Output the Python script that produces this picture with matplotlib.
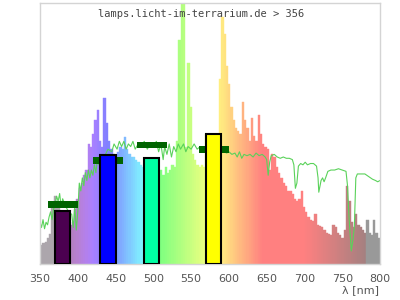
import matplotlib
matplotlib.use('Agg')
import matplotlib.pyplot as plt
import numpy as np

# lamp spectrum, 3 nm bins starting at 350 nm (relative intensity, 100 = top of plot)
bin_width = 3
spec_start = np.arange(350, 800, bin_width)
spec_val = [
    7.3, 8, 8.5, 10, 11.5, 22, 26, 24, 22, 20,          # 350-377
    18, 17, 16, 15, 16, 21, 25, 29, 31, 34,             # 380-407
    36, 46, 45, 50, 55, 59, 47, 45, 63.7, 54,           # 410-437
    47, 44, 42, 39, 43, 45, 44, 48.8, 44, 42,           # 440-467
    41, 41, 40, 39, 38, 37, 37, 38, 36, 37,             # 470-497
    38, 36, 35, 36, 34, 37, 35, 36, 38, 37,             # 500-527
    47, 86, 115, 110, 45, 77, 60, 42, 40, 38,           # 530-557
    37, 38, 37, 50, 45, 45, 46, 47, 48, 71,             # 560-587
    94.6, 88, 76, 69, 60, 55, 52, 51, 50, 62,           # 590-617
    55, 52, 47, 56, 49, 47, 57, 50, 46, 45,             # 620-647
    44, 36, 42, 41, 37, 35, 33, 31, 30, 28,             # 650-677
    28, 27, 25, 24, 25, 28, 22, 20, 18, 17,             # 680-707
    16.5, 19, 15, 14.5, 14, 13, 12, 11.5, 11, 15,       # 710-737
    14, 12, 11, 10, 13, 30, 24, 16, 14, 19,             # 740-767
    15, 14, 13, 12, 17, 12, 11, 17, 12, 10,             # 770-797
]

# reference (daylight) curve
ref_nm = [350, 352, 354, 356, 358, 360, 362, 364, 366, 368, 370, 372, 374, 376, 378,
          380, 384, 388, 392, 394, 396, 398, 400, 402, 404, 406, 408, 410, 412, 414,
          416, 418, 420, 422, 424, 426, 428, 430, 435, 440, 445, 448, 452, 455, 458,
          461, 464, 467, 470, 473, 476, 480, 484, 488, 492, 496, 500, 504, 507, 510,
          513, 515, 518, 521, 524, 527, 530, 533, 536, 540, 543, 546, 550, 554, 558,
          562, 566, 570, 575, 580, 585, 590, 594, 597, 600, 604, 608, 611, 614, 617,
          620, 624, 628, 632, 636, 640, 644, 648, 650, 652, 654, 656, 660, 664, 668,
          672, 676, 680, 684, 686, 688, 690, 692, 695, 698, 701, 704, 708, 712, 716,
          718, 719, 722, 724, 726, 728, 731, 735, 740, 745, 750, 755, 757, 759, 762,
          764, 766, 768, 770, 775, 780, 785, 790, 794, 797, 800]
ref_val = [16, 14, 17, 13.5, 16, 15, 18, 20, 17, 21, 23, 26, 24, 27, 22,
           25, 22, 20, 19, 14, 22, 13, 20, 31, 28, 33, 30, 35, 32, 36,
           33, 36, 34, 38, 35, 40, 38, 42, 41, 44, 43, 46, 44, 47, 45,
           47, 44, 46, 45, 47, 44, 46, 45, 47, 44, 46, 45, 47, 43, 46,
           40, 45, 42, 46, 41, 45, 43, 46, 44, 46, 43, 45, 44, 46, 44,
           45, 44, 45, 44, 43.5, 43, 43.5, 43, 42.5, 43, 42, 42.5, 41, 43, 40.5,
           42, 41.5, 42, 41, 42.5, 41.5, 42, 41, 40, 34, 39, 41.5, 42, 41, 40.5,
           41, 40.5, 40.5, 40, 38, 29, 31, 37.5, 38.5, 38, 39, 38, 38.5, 38.5, 37.5,
           33, 27.5, 32, 33, 31.5, 33, 35.5, 36, 36, 36.5, 36, 35.5, 30, 18, 5,
           9, 14, 33, 34.5, 34.5, 34.5, 33.5, 32.5, 32, 31.5, 32]

# filter bands: center, height, colour; target markers
band_center = [380, 440, 498, 580]
band_height = [20.4, 41.8, 40.6, 50.0]
band_color = ['#4b0050', '#0000ff', '#00ffa4', '#ffff00']
target_val = [22.9, 39.6, 45.6, 44.0]
band_width = 20
target_width = 40

x_ticks = [350, 400, 450, 500, 550, 600, 650, 700, 750, 800]
title = 'lamps.licht-im-terrarium.de > 356'


def wl_color(nm):
    # rough wavelength -> rgb, faded 50% towards white
    if nm < 380:
        r, g, b = 0.35, 0.3, 0.35
    elif nm > 782:
        return (0.6, 0.6, 0.6)
    else:
        if nm < 440:
            r, g, b = -(nm - 440) / 60, 0, 1
        elif nm < 490:
            r, g, b = 0, (nm - 440) / 50, 1
        elif nm < 510:
            r, g, b = 0, 1, -(nm - 510) / 20
        elif nm < 580:
            r, g, b = (nm - 510) / 70, 1, 0
        elif nm < 645:
            r, g, b = 1, -(nm - 645) / 65, 0
        else:
            r, g, b = 1, 0, 0
        f = 1.0
        if nm < 420:
            f = 0.3 + 0.7 * (nm - 380) / 40
        elif nm > 700:
            f = 0.3 + 0.7 * (780 - nm) / 80
        r, g, b = r * f, g * f, b * f
    return (0.5 + 0.5 * r, 0.5 + 0.5 * g, 0.5 + 0.5 * b)


fig = plt.figure(figsize=(4, 3), dpi=100)
ax = fig.add_axes([0.1, 0.12, 0.85, 0.87])

cols = [wl_color(s + bin_width / 2) for s in spec_start]
ax.bar(spec_start, spec_val, width=bin_width, align='edge', color=cols,
       edgecolor=cols, linewidth=0.3, zorder=1)

ax.plot(ref_nm, ref_val, color='#5ad25a', lw=0.8, zorder=2)

for c, t in zip(band_center, target_val):
    ax.bar(c, 2.6, bottom=t - 1.3, width=target_width, color='#006400',
           linewidth=0, zorder=3)

ax.bar(band_center, band_height, width=band_width, color=band_color,
       edgecolor='black', linewidth=1.5, zorder=4)

ax.set_xlim(350, 800)
ax.set_ylim(0, 100)
ax.set_xticks(x_ticks)
ax.set_yticks([])
ax.tick_params(axis='x', length=0, pad=7, labelsize=8, labelcolor='#555555')
for s in ax.spines.values():
    s.set_color('#d4d4d4')
    s.set_linewidth(1)

ax.text(0.475, 0.978, title, transform=ax.transAxes, ha='center', va='top',
        family='DejaVu Sans Mono', fontsize=7.5, color='#444444', zorder=5)
fig.text(0.948, 0.015, 'λ [nm]', ha='right', va='bottom', fontsize=8, color='#555555')

fig.savefig('out.png', dpi=100)
